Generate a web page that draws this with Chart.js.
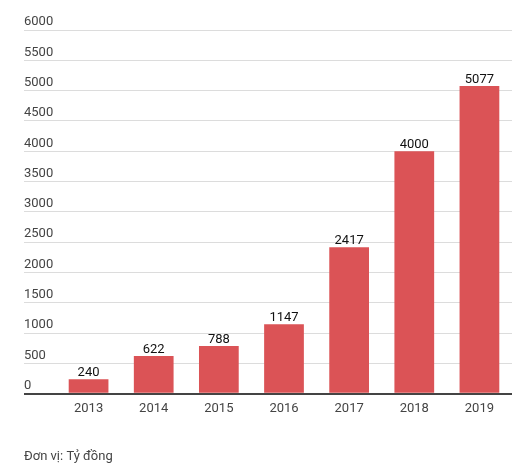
<!DOCTYPE html>
<html>
<head>
<meta charset="utf-8">
<script src="https://cdn.jsdelivr.net/npm/chart.js@4"></script>
<style>
  html, body { margin: 0; padding: 0; background: #fff; }
  #wrap { width: 524px; height: 475px; }
</style>
</head>
<body>
<div id="wrap"><canvas id="revenueChart"></canvas></div>
<script>
const years = ['2013', '2014', '2015', '2016', '2017', '2018', '2019'];
const revenue = [240, 622, 788, 1147, 2417, 4000, 5077];
const unitText = 'Đơn vị: Tỷ đồng';

// số liệu trên đầu cột
const barLabels = {
    id: 'barLabels',
    afterDatasetsDraw(chart) {
        const c = chart.ctx;
        const meta = chart.getDatasetMeta(0);
        c.save();
        c.font = '13px Roboto';
        c.fillStyle = '#111';
        c.textAlign = 'center';
        c.textBaseline = 'alphabetic';
        meta.data.forEach((bar, i) => {
            c.fillText(revenue[i], bar.x, bar.y - 3);
        });
        c.restore();
    }
};

const ctx = document.getElementById('revenueChart').getContext('2d');
new Chart(ctx, {
    type: 'bar',
    data: {
        labels: years,
        datasets: [{
            data: revenue,
            backgroundColor: '#db5356',
            borderWidth: 0,
            barPercentage: 0.61,
            categoryPercentage: 1
        }]
    },
    options: {
        responsive: true,
        maintainAspectRatio: false,
        animation: false,
        layout: {
            padding: { left: 24, right: 12, top: 30, bottom: 6 }
        },
        plugins: {
            legend: { display: false },
            tooltip: { enabled: false },
            title: {
                display: true,
                position: 'bottom',
                align: 'start',
                text: unitText,
                color: '#444',
                font: { family: 'Roboto', size: 13, weight: 'normal' },
                padding: { top: 26, bottom: 4 }
            }
        },
        scales: {
            x: {
                grid: { display: false, drawTicks: false },
                border: { display: false },
                ticks: {
                    padding: 7,
                    color: '#444',
                    font: { family: 'Roboto', size: 13 }
                }
            },
            y: {
                min: 0,
                max: 6000,
                border: { display: false },
                afterFit: (scale) => { scale.width = 32; },
                grid: {
                    tickLength: 32,
                    color: (c) => c.tick && c.tick.value === 0 ? '#444' : '#dcdcdc',
                    lineWidth: (c) => c.tick && c.tick.value === 0 ? 2 : 1
                },
                ticks: {
                    stepSize: 500,
                    crossAlign: 'far',
                    padding: 0,
                    labelOffset: -8,
                    color: '#444',
                    font: { family: 'Roboto', size: 13 },
                    callback: (value) => String(value)
                }
            }
        }
    },
    plugins: [barLabels]
});
</script>
</body>
</html>
